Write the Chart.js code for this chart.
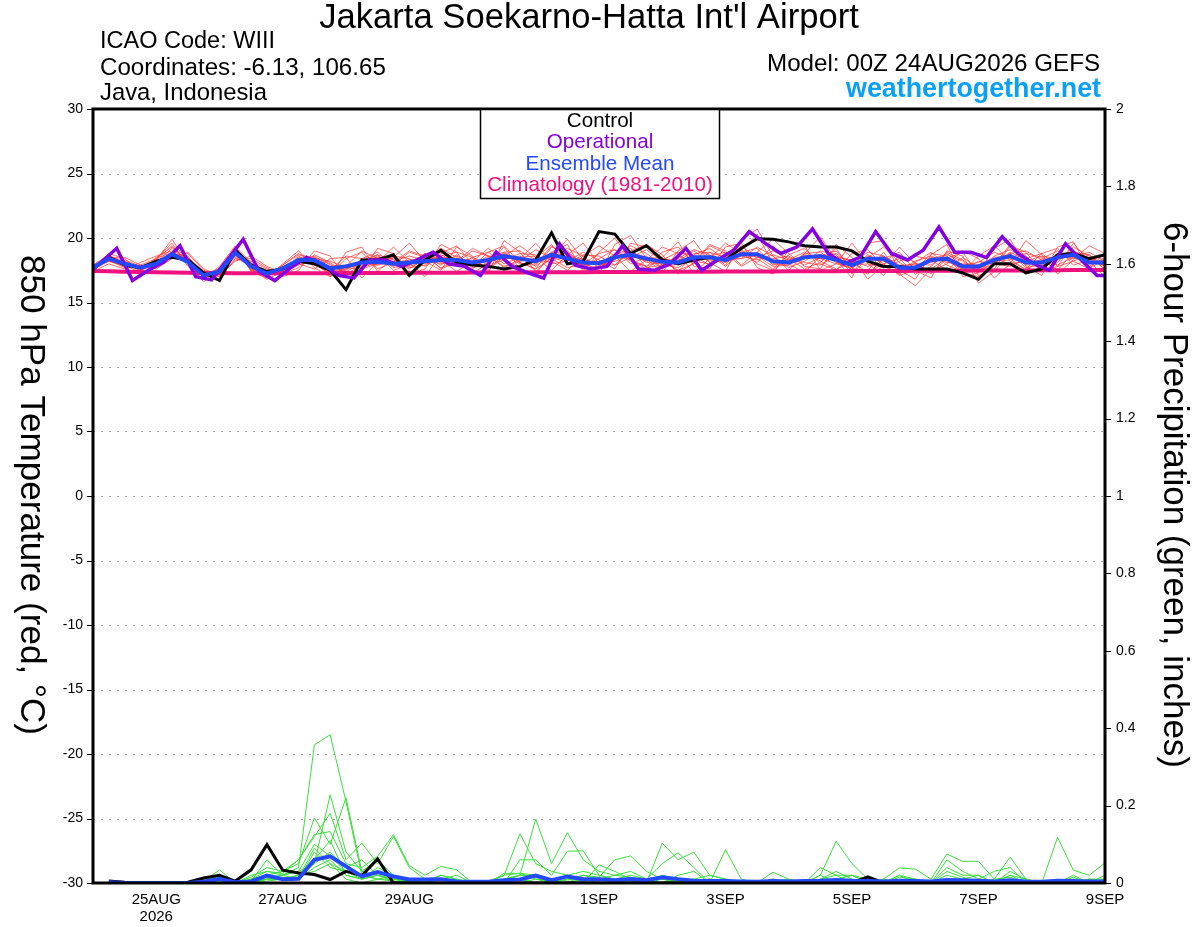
<!DOCTYPE html>
<html>
<head>
<meta charset="utf-8">
<script src="https://cdn.jsdelivr.net/npm/chart.js@4.4.0/dist/chart.umd.min.js"></script>
<style>
html, body { margin: 0; padding: 0; background: #fff; }
#wrap { width: 1200px; height: 927px; }
</style>
</head>
<body>
<div id="wrap"><canvas id="myChartArea" width="1200" height="927"></canvas></div>
<script>
// forecast hours, 6-hourly from 00Z 24AUG2026 to 00Z 9SEP2026
var hours = [];
for (var i = 0; i <= 64; i++) hours.push(i * 6);
var precipHours = hours.slice(1);
// operational run is plotted half a step later
var opHours = [0, 3];
for (var h = 9; h <= 381; h += 6) opHours.push(h);
opHours.push(384);

var tickHours = [24, 72, 120, 192, 240, 288, 336, 384];
var tickLabels = ['25AUG', '27AUG', '29AUG', '1SEP', '3SEP', '5SEP', '7SEP', '9SEP'];

// 850 hPa temperature, C
var controlTemp = [17.6,18.5,17.9,17.7,18.2,18.5,18.3,17.3,16.7,19.05,
  17.9,17.4,17.6,18.2,18.0,17.5,16.0,18.3,18.3,18.7,
  17.1,18.3,19.05,18.1,17.9,17.8,17.6,17.8,18.3,20.4,
  18.0,18.2,20.5,20.3,18.8,19.4,18.3,18.0,18.3,18.5,
  18.3,19.2,19.95,19.9,19.7,19.4,19.3,19.3,19.0,18.2,
  17.8,17.8,17.6,17.6,17.6,17.3,16.8,18.0,18.0,17.3,
  17.6,18.7,18.8,18.4,18.7];

var opTemp = [17.6,18.1,
  19.2,16.7,17.5,18.15,19.4,17.0,16.75,18.3,19.9,17.4,
  16.7,17.7,18.5,18.0,17.1,16.9,18.3,18.3,17.8,18.3,
  18.9,18.0,17.8,17.1,18.9,17.8,17.3,16.9,19.55,17.9,
  17.6,17.8,19.4,17.6,17.5,18.0,19.2,17.5,18.3,19.05,
  20.5,19.6,18.8,19.3,20.7,18.8,18.0,18.5,20.5,18.8,
  18.3,19.05,20.85,18.9,18.9,18.5,20.1,18.8,18.0,17.5,
  19.55,18.3,17.1,
  17.1];

var meanTemp = [17.7,18.4,18.0,17.7,18.0,18.75,18.15,17.1,17.4,18.85,
  17.8,17.25,17.65,18.3,18.3,17.65,17.8,18.1,18.15,18.0,
  18.1,18.2,18.3,18.3,18.1,18.3,18.6,18.4,18.2,18.7,
  18.4,18.1,18.05,18.5,18.7,18.4,18.15,18.1,18.5,18.5,
  18.3,18.75,18.75,18.2,18.1,18.5,18.6,18.3,17.9,18.4,
  18.4,17.7,17.7,18.3,18.4,17.8,17.8,18.3,18.6,18.1,
  18.1,18.5,18.7,18.1,18.1];

var climTemp = [17.45,17.42,17.39,17.36,17.34,17.32,17.30,17.29,17.28,17.27,
  17.26,17.26,17.26,17.26,17.27,17.27,17.28,17.28,17.29,17.29,
  17.30,17.30,17.31,17.31,17.32,17.32,17.33,17.33,17.34,17.34,
  17.35,17.35,17.36,17.36,17.37,17.37,17.38,17.38,17.39,17.39,
  17.40,17.40,17.41,17.41,17.42,17.42,17.43,17.43,17.44,17.44,
  17.45,17.45,17.46,17.46,17.47,17.47,17.48,17.48,17.49,17.49,
  17.50,17.50,17.51,17.51,17.52];

var mem1 = [17.6,18.6,18.1,17.5,18.3,19.9,18.0,17.0,17.6,19.2,17.5,17.0,17.9,
  18.8,18.0,17.2,18.4,18.9,17.6,18.1,19.0,18.6,17.9,18.7,17.8,18.9,
  19.4,18.1,17.6,19.3,18.8,17.9,18.4,19.1,18.2,17.8,18.9,19.3,18.0,
  18.9,17.9,19.4,18.4,17.6,18.7,19.2,18.0,17.5,18.8,19.1,17.8,17.2,
  18.1,18.9,17.9,17.4,18.6,19.4,18.2,17.6,18.8,19.2,17.9,18.3,18.6];
var mem2 = [17.8,18.2,17.8,17.9,18.4,18.9,18.3,17.3,17.2,18.6,17.9,17.4,17.3,
  18.0,18.6,17.9,17.4,18.0,18.7,18.3,17.6,18.4,19.2,18.5,17.7,18.0,
  18.9,19.0,18.3,18.1,19.2,18.6,17.7,18.3,19.4,18.8,17.9,18.2,19.0,
  18.1,18.6,19.0,20.3,18.0,17.9,18.8,18.9,18.1,17.6,18.7,18.0,17.1,
  17.5,18.8,18.6,17.5,18.2,18.0,18.9,18.3,17.8,18.6,19.0,18.4,17.8];
var mem3 = [17.5,18.3,18.2,17.6,17.8,18.6,18.4,16.9,17.5,19.3,18.1,17.1,17.6,
  18.5,18.2,17.4,17.5,18.3,17.9,18.6,18.4,17.8,18.6,18.9,18.5,17.9,
  18.3,18.8,18.7,18.0,18.2,18.9,18.3,17.6,19.6,19.3,18.5,17.4,18.7,
  19.2,18.3,18.4,19.3,18.6,17.7,18.2,19.0,18.7,17.2,18.5,19.3,18.1,
  17.4,18.4,18.7,18.2,17.3,18.6,19.1,18.5,17.7,18.3,18.8,18.3,17.9];
var mem4 = [17.9,18.7,17.9,17.6,17.9,18.5,18.1,17.2,17.3,18.7,17.7,17.3,17.8,
  18.2,18.5,18.0,17.1,17.8,18.6,17.7,17.9,18.8,17.6,18.1,19.0,18.6,
  17.8,18.2,19.1,18.4,17.7,18.0,18.8,19.1,18.0,18.5,17.6,18.4,19.1,
  18.7,17.8,18.9,19.2,17.9,18.3,18.9,18.2,17.6,18.1,18.9,18.6,17.8,
  18.0,17.9,18.8,17.9,18.1,18.9,18.4,17.5,18.4,19.0,18.2,17.6,18.4];
var mem5 = [17.6,18.5,18.3,17.8,18.1,19.2,18.0,17.1,17.6,19.0,17.6,17.2,17.5,
  18.4,17.9,17.5,18.6,18.4,18.9,17.8,18.2,18.0,18.9,18.2,18.4,17.6,
  18.7,18.0,17.9,19.4,18.3,18.4,17.9,18.8,18.3,17.8,18.3,18.9,18.6,
  17.9,18.5,18.4,18.7,18.4,18.6,17.9,18.5,18.8,17.9,18.0,17.7,18.2,
  18.6,18.3,17.5,18.5,17.7,18.2,18.3,18.8,18.5,17.9,18.5,18.9,18.2];
var mem6 = [17.7,18.3,17.9,17.5,18.2,18.8,18.6,17.0,17.2,18.9,18.0,17.5,17.4,
  17.9,18.4,18.2,17.7,17.6,18.0,18.5,17.9,18.6,18.1,17.8,18.5,18.9,
  18.0,18.5,18.6,18.3,19.0,17.8,18.2,18.5,18.9,18.1,18.0,17.7,18.4,
  18.6,18.9,18.6,18.3,18.7,18.3,18.6,18.4,18.5,18.3,17.8,18.3,17.5,
  18.2,18.6,18.1,18.0,17.9,18.4,18.0,18.2,18.6,18.4,18.7,17.8,18.5];
var mem7 = [17.8,18.4,18.0,17.8,17.9,18.7,18.2,17.4,17.3,18.5,17.8,17.0,17.7,
  18.1,18.1,17.6,17.9,18.0,17.9,18.2,18.6,18.3,18.5,18.4,17.9,18.2,
  18.4,18.6,17.8,18.8,18.5,17.6,17.8,18.4,18.9,18.5,18.4,18.2,18.3,
  18.4,18.2,18.9,18.5,18.3,18.0,18.4,18.7,18.2,18.0,18.2,18.6,17.9,
  17.9,18.1,18.5,17.7,17.6,18.3,18.7,17.9,18.0,18.7,18.4,18.5,18.0];
var mem8 = [17.6,18.2,18.1,17.7,18.0,18.6,18.3,17.2,17.5,18.8,17.6,17.3,17.6,
  18.3,18.4,17.3,17.8,18.2,18.3,17.9,18.0,18.1,18.2,18.3,17.9,18.6,
  18.5,18.3,18.1,18.5,18.1,18.2,17.9,18.2,18.6,18.2,18.3,17.9,18.6,
  18.3,18.1,18.6,18.8,18.1,18.2,18.4,18.7,18.3,17.8,18.3,18.5,17.6,
  17.8,18.2,18.3,17.9,17.8,18.2,18.5,18.0,18.2,18.5,18.6,18.1,17.9];
var mem9 = [17.7,18.5,18.0,17.6,18.1,18.9,18.1,17.0,17.4,18.9,17.9,17.2,17.5,
  18.2,18.2,17.8,17.9,17.7,18.1,18.0,17.8,18.2,18.4,18.0,18.2,18.3,
  18.8,18.2,18.4,18.6,18.6,18.3,18.0,18.7,18.5,18.6,17.7,18.0,18.8,
  18.9,18.5,18.7,18.6,17.8,17.9,18.7,18.4,18.0,17.7,18.6,18.3,17.4,
  17.6,18.5,18.2,17.6,17.5,18.1,18.8,17.7,17.9,18.4,18.9,18.0,18.3];
var mem10 = [17.8,18.6,17.8,17.8,18.0,18.7,18.2,17.3,17.3,18.7,17.7,17.4,17.7,
  18.4,18.3,17.7,17.6,18.1,18.2,18.1,18.3,18.4,18.0,18.6,18.0,18.4,
  18.6,18.4,18.0,18.9,18.4,17.9,18.1,18.4,18.8,18.3,18.2,18.3,18.5,
  18.5,18.3,18.8,18.7,18.2,18.1,18.6,18.5,18.4,18.1,18.4,18.2,17.8,
  17.7,18.3,18.4,17.8,17.9,18.5,18.6,18.1,18.3,18.6,18.5,18.2,18.1];
var mem11 = [17.5,18.4,18.2,17.6,18.3,19.4,18.0,16.6,17.7,19.1,17.6,16.8,17.4,
  18.6,18.0,17.2,17.6,18.3,18.7,17.5,17.9,18.8,18.3,17.4,18.2,19.2,
  18.3,17.7,18.5,19.5,18.0,18.7,18.6,17.9,18.5,19.1,18.2,17.5,18.0,
  19.4,18.8,17.8,18.5,19.0,18.4,17.6,18.1,19.2,17.4,17.5,18.9,17.2,
  16.3,17.6,18.4,17.3,17.0,17.9,19.5,18.6,17.4,18.1,19.3,18.6,17.6];
var mem12 = [17.9,18.3,17.7,17.9,17.7,18.6,18.5,17.4,17.0,18.4,18.2,17.6,17.2,
  17.7,18.7,18.1,17.2,17.9,18.5,18.4,17.7,17.9,18.7,18.1,17.6,18.5,
  18.9,18.1,17.6,18.4,18.9,18.0,17.6,18.7,19.2,17.7,17.9,18.6,18.2,
  18.0,18.7,19.1,18.0,17.5,18.5,18.1,17.9,18.6,18.2,17.3,18.0,18.4,
  17.2,17.8,18.9,18.3,17.4,18.0,17.8,18.4,18.8,17.8,18.2,18.7,17.5];
var mem13 = [17.7,18.8,18.4,17.4,18.4,19.6,17.8,16.8,17.8,19.4,17.4,16.9,18.0,
  19.0,17.7,17.0,18.9,19.3,17.4,18.5,19.6,18.2,17.5,19.3,18.6,17.3,
  19.8,18.9,17.4,18.5,19.9,18.3,17.2,19.5,20.2,18.4,17.3,19.0,19.8,
  18.1,17.4,19.8,20.7,18.6,17.5,18.8,20.1,18.3,16.9,19.6,19.8,17.5,
  16.8,18.7,19.5,17.0,17.3,19.2,19.9,17.8,17.1,19.3,19.7,17.6,18.9];
var mem14 = [17.4,18.0,17.6,18.1,18.6,19.0,18.8,17.5,17.0,18.3,18.4,17.7,17.0,
  17.5,19.0,18.6,16.9,17.4,19.2,18.8,17.2,17.6,19.5,18.9,17.3,18.0,
  19.3,17.6,17.2,18.9,19.5,17.4,18.9,20.0,18.3,17.6,18.5,19.7,17.8,
  17.6,19.3,19.6,17.7,17.2,19.1,19.4,17.5,18.0,19.6,18.0,17.1,18.7,
  18.1,17.2,18.4,18.9,17.1,17.6,19.4,18.9,17.4,17.8,19.6,18.2,17.0];
var mem15 = [17.6,18.5,18.5,17.9,17.6,18.4,18.9,17.6,17.1,18.2,18.6,17.8,17.3,
  18.0,17.6,18.4,18.5,16.9,18.1,19.3,18.1,17.0,18.8,19.4,18.0,17.5,
  18.6,19.4,18.5,17.5,18.7,19.6,18.0,17.9,19.0,19.5,18.7,17.2,18.1,
  19.5,19.0,17.9,18.9,19.9,18.8,17.8,17.6,19.5,18.5,16.8,17.9,19.3,
  18.0,17.4,18.0,19.0,18.4,16.9,18.0,19.8,18.7,17.2,18.3,19.4,18.8];
var mem16 = [17.8,18.2,17.9,17.3,18.5,19.3,18.2,17.2,17.6,19.0,17.5,17.1,17.9,
  18.7,18.5,17.0,17.8,19.0,18.4,17.9,18.9,18.5,17.7,18.2,19.2,18.6,
  17.7,18.4,19.6,18.2,17.5,18.6,19.4,18.6,17.4,18.3,19.3,18.8,17.3,
  18.4,19.6,18.8,18.1,19.4,18.0,17.3,18.6,19.0,17.7,17.2,18.4,18.9,
  17.5,16.9,19.0,18.6,16.5,17.4,18.8,19.0,18.3,17.5,18.9,18.7,17.8];

// 6-hour precipitation, inches (hours 6..384)
var controlPrecip = [0.005,0.002,0,0,0,0.002,0.013,0.02,0.005,0.034,0.099,0.033,0.026,0.022,0.009,0.03,
  0.019,0.062,0,0,0,0,0,0,0,0,0,0,0,0,0,0,
  0,0,0,0,0,0,0,0,0,0,0,0,0,0,0,0,
  0.016,0,0,0,0,0,0,0,0,0,0,0,0,0,0,0];
var meanPrecip = [0.002,0,0,0,0,0,0.003,0.01,0.002,0.004,0.019,0.01,0.011,0.06,0.069,0.043,
  0.017,0.028,0.017,0.009,0.009,0.01,0.004,0.003,0.003,0.007,0.009,0.019,0.007,0.017,0.01,0.01,
  0.007,0.01,0.007,0.015,0.01,0.006,0.005,0.005,0.004,0.003,0.005,0.004,0.005,0.006,0.008,0.006,
  0.005,0.004,0.006,0.005,0.004,0.008,0.007,0.006,0.004,0.007,0.004,0.003,0.006,0.005,0.004,0.004];

var pmemA = [0,0,0,0,0,0,0.005,0.01,0,0.005,0.01,0.02,0.04,0.357,0.383,0.21,
  0.02,0.01,0.005,0,0,0.01,0.005,0,0,0.005,0.01,0,0,0,0,0,
  0,0,0,0,0,0.005,0.01,0,0,0,0,0,0,0,0.005,0,
  0,0,0,0,0,0,0,0,0,0.01,0,0,0,0,0,0];
var pmemB = [0,0,0,0,0,0,0.01,0.02,0,0.01,0.03,0.02,0.03,0.05,0.228,0.08,
  0.03,0.06,0.02,0.01,0,0.02,0.01,0,0.005,0.02,0.025,0.01,0.005,0,0.01,0,
  0,0.01,0,0.02,0.01,0,0,0,0,0,0.01,0,0,0.01,0.02,0,
  0,0,0,0,0,0.02,0.01,0,0,0,0,0,0,0,0.01,0];
var pmemC = [0,0,0,0,0,0,0.005,0.034,0,0.015,0.04,0.03,0.05,0.168,0.1,0.22,
  0.03,0.02,0.01,0.005,0,0,0,0,0,0.025,0.025,0.02,0,0.01,0.005,0.01,
  0.005,0,0,0,0.02,0.03,0,0,0,0,0,0,0,0,0.01,0,
  0,0,0,0.01,0,0,0,0.005,0,0,0,0,0,0.01,0,0.02];
var pmemD = [0,0,0,0,0,0,0.01,0.015,0,0.02,0.03,0.025,0.06,0.12,0.18,0.06,
  0.103,0.05,0.12,0.04,0.01,0.01,0.02,0,0,0.01,0.02,0.015,0,0,0.02,0.01,
  0.01,0.02,0.01,0,0,0,0.01,0,0,0.005,0,0,0,0.02,0,0,
  0.01,0,0.02,0,0,0.03,0.015,0,0,0.02,0,0,0,0.015,0,0.01];
var pmemE = [0,0,0,0,0,0,0.005,0.02,0,0.01,0.02,0.03,0.06,0.125,0.133,0.05,
  0.04,0.069,0.125,0.045,0.02,0.043,0.034,0,0,0.005,0.02,0.02,0.01,0.005,0,0,
  0,0,0,0.01,0.005,0,0,0.01,0,0,0,0,0,0,0.01,0.02,
  0,0,0,0,0,0,0,0,0.01,0.015,0,0,0,0,0,0];
var pmemF = [0,0,0,0,0,0,0,0.01,0,0.005,0.06,0.02,0.01,0.08,0.04,0.03,
  0.02,0.03,0.01,0.01,0.005,0.02,0.01,0,0,0.02,0.127,0.05,0.03,0.02,0.03,0.02,
  0.01,0,0,0,0,0,0.005,0,0,0,0,0,0,0,0,0,
  0,0.01,0,0,0,0,0,0.01,0,0,0,0,0,0,0.005,0];
var pmemG = [0,0,0,0,0,0,0,0.005,0,0,0.01,0.01,0.02,0.05,0.08,0.04,
  0.06,0.02,0.01,0.005,0,0,0,0,0,0.01,0.02,0.165,0.05,0.13,0.06,0.03,
  0.02,0.015,0.005,0,0.01,0.005,0.01,0,0,0,0.005,0,0,0,0,0.01,
  0.005,0,0,0,0,0,0,0,0,0,0,0,0,0.01,0,0];
var pmemH = [0,0,0,0,0,0,0,0,0,0.005,0.02,0.01,0.015,0.09,0.05,0.03,
  0.01,0.04,0.02,0.01,0,0,0,0,0,0,0.06,0.06,0.02,0.082,0.083,0.02,
  0.01,0.005,0,0.103,0.06,0.08,0.02,0.01,0,0,0.01,0,0,0,0,0,
  0,0,0,0,0,0,0.01,0.02,0,0,0,0,0,0,0.01,0.005];
var pmemI = [0,0,0,0,0,0,0.005,0.01,0,0,0.01,0.01,0.02,0.06,0.11,0.02,
  0.01,0.02,0.01,0.005,0,0,0,0,0,0,0.01,0.02,0,0.01,0.02,0.015,
  0.06,0.07,0.03,0.01,0,0.01,0,0.086,0.01,0,0.005,0.01,0,0.01,0.03,0.01,
  0,0,0.015,0.01,0,0.04,0.02,0.02,0,0.03,0.01,0,0,0,0,0];
var pmemJ = [0,0,0,0,0,0,0,0.005,0,0.005,0.015,0.02,0.03,0.1,0.07,0.03,
  0.02,0.01,0.02,0,0,0,0,0,0,0,0,0.01,0,0.02,0.01,0.01,
  0.02,0.03,0.01,0.05,0.078,0.04,0,0,0,0,0.01,0,0,0.02,0.108,0.05,
  0.01,0,0.01,0.005,0,0.01,0,0,0,0.02,0.01,0,0,0,0.01,0.01];
var pmemK = [0,0,0,0,0,0,0,0.01,0,0,0.01,0.015,0.01,0.04,0.06,0.02,
  0.01,0.02,0.005,0,0,0.01,0,0,0,0,0.01,0,0,0,0,0.047,
  0.03,0.01,0,0,0.01,0.005,0,0,0,0,0.028,0.01,0,0.04,0.02,0.02,
  0,0.01,0.039,0.036,0.01,0.075,0.056,0.056,0.01,0.067,0.01,0,0,0.02,0,0.01];
var pmemL = [0,0,0,0,0,0,0,0,0,0,0.005,0.01,0.02,0.03,0.05,0.01,
  0,0.01,0.01,0,0,0,0,0,0,0,0,0,0,0,0,0,
  0,0,0,0,0,0.01,0.02,0.01,0,0,0,0.005,0,0,0.01,0.02,
  0.01,0,0.02,0.01,0,0.06,0.03,0.01,0.03,0.04,0,0,0.118,0.033,0.02,0.052];

var tempMembers = [mem1, mem2, mem3, mem4, mem5, mem6, mem7, mem8,
  mem9, mem10, mem11, mem12, mem13, mem14, mem15, mem16];
var precipMembers = [pmemA, pmemB, pmemC, pmemD, pmemE, pmemF, pmemG, pmemH, pmemI, pmemJ, pmemK, pmemL];

var FONT = '"Liberation Sans", Arial, Helvetica, sans-serif';

function pts(hrs, vals) {
  return vals.map(function (v, k) { return { x: hrs[k], y: v }; });
}

function line(data, axis, color, width, order) {
  return { data: data, yAxisID: axis, borderColor: color, borderWidth: width,
    pointRadius: 0, tension: 0, fill: false, order: order };
}

var datasets = [];
datasets.push(line(pts(hours, meanTemp), 'y', '#2448ff', 4, 1));
datasets.push(line(pts(opHours, opTemp), 'y', '#8400e0', 3.5, 2));
datasets.push(line(pts(hours, controlTemp), 'y', '#000000', 3, 3));
datasets.push(line(pts(hours, climTemp), 'y', '#f0107e', 4, 4));
datasets.push(line(pts(precipHours, meanPrecip), 'y2', '#2448ff', 4, 5));
datasets.push(line(pts(precipHours, controlPrecip), 'y2', '#000000', 3, 6));
precipMembers.forEach(function (m) {
  datasets.push(line(pts(precipHours, m), 'y2', '#3cdc3c', 1, 10));
});
tempMembers.forEach(function (m) {
  datasets.push(line(pts(hours, m), 'y', 'rgba(255,50,50,0.72)', 1, 11));
});

function fitText(ctx, txt, x, y, w, align, weight, color) {
  ctx.font = weight + ' 20px ' + FONT;
  var size = 20 * w / ctx.measureText(txt).width;
  ctx.font = weight + ' ' + size.toFixed(2) + 'px ' + FONT;
  ctx.textAlign = align;
  ctx.fillStyle = color;
  ctx.fillText(txt, x, y);
}

var deco = {
  id: 'deco',
  beforeDatasetsDraw: function (chart) {
    var ctx = chart.ctx, a = chart.chartArea, y = chart.scales.y;
    ctx.save();
    ctx.strokeStyle = '#a8a8a8';
    ctx.lineWidth = 1;
    ctx.setLineDash([2, 6]);
    for (var v = -25; v <= 25; v += 5) {
      var py = Math.round(y.getPixelForValue(v)) + 0.5;
      ctx.beginPath(); ctx.moveTo(a.left, py); ctx.lineTo(a.right, py); ctx.stroke();
    }
    ctx.restore();
  },
  afterDatasetsDraw: function (chart) {
    var ctx = chart.ctx, a = chart.chartArea;
    var x = chart.scales.x, y = chart.scales.y, y2 = chart.scales.y2;
    ctx.save();
    ctx.setLineDash([]);

    // frame
    ctx.strokeStyle = '#000';
    ctx.lineWidth = 3;
    ctx.strokeRect(a.left, a.top, a.right - a.left, a.bottom - a.top);

    // tick marks
    ctx.lineWidth = 1;
    for (var v = -30; v <= 30; v += 5) {
      var py = Math.round(y.getPixelForValue(v)) + 0.5;
      ctx.beginPath(); ctx.moveTo(a.left - 6, py); ctx.lineTo(a.left, py); ctx.stroke();
    }
    for (var k = 0; k <= 10; k++) {
      var py2 = Math.round(y2.getPixelForValue(k * 0.2)) + 0.5;
      ctx.beginPath(); ctx.moveTo(a.right, py2); ctx.lineTo(a.right + 6, py2); ctx.stroke();
    }

    // x labels
    ctx.fillStyle = '#000';
    ctx.textAlign = 'center';
    ctx.font = '15px ' + FONT;
    tickHours.forEach(function (hr, n) {
      var px = x.getPixelForValue(hr);
      ctx.fillText(tickLabels[n], px, 904);
      if (n === 0) ctx.fillText('2026', px, 921);
    });

    // legend box
    ctx.fillStyle = '#fff';
    ctx.fillRect(481, 110, 238, 88);
    ctx.lineWidth = 1.5;
    ctx.strokeRect(480.5, 109.5, 239, 89);
    ctx.font = '20.6px ' + FONT;
    ctx.textAlign = 'center';
    ctx.fillStyle = '#000'; ctx.fillText('Control', 600, 127);
    ctx.fillStyle = '#8400e0'; ctx.fillText('Operational', 600, 148);
    ctx.fillStyle = '#2448ff'; ctx.fillText('Ensemble Mean', 600, 170);
    ctx.fillStyle = '#f0107e'; ctx.fillText('Climatology (1981-2010)', 600, 191);

    // header
    fitText(ctx, "Jakarta Soekarno-Hatta Int'l Airport", 589, 28, 540, 'center', 'normal', '#000');
    fitText(ctx, 'ICAO Code: WIII', 100, 48, 175, 'left', 'normal', '#000');
    fitText(ctx, 'Coordinates: -6.13, 106.65', 100, 75, 286, 'left', 'normal', '#000');
    fitText(ctx, 'Java, Indonesia', 100, 100, 167, 'left', 'normal', '#000');
    fitText(ctx, 'Model: 00Z 24AUG2026 GEFS', 1100, 71, 333, 'right', 'normal', '#000');
    fitText(ctx, 'weathertogether.net', 1101, 97, 255, 'right', 'bold', '#0aa0f5');

    // axis titles, both read top to bottom
    ctx.save();
    ctx.translate(31, 495);
    ctx.rotate(Math.PI / 2);
    ctx.textBaseline = 'middle';
    fitText(ctx, '850 hPa Temperature (red, \u00B0C)', 0, 0, 480, 'center', 'normal', '#000');
    ctx.restore();
    ctx.save();
    ctx.translate(1174, 495);
    ctx.rotate(Math.PI / 2);
    ctx.textBaseline = 'middle';
    fitText(ctx, '6-hour Precipitation (green, inches)', 0, 0, 546, 'center', 'normal', '#000');
    ctx.restore();

    ctx.restore();
  }
};

var ctx = document.getElementById('myChartArea');
var chart = new Chart(ctx, {
  type: 'line',
  data: { datasets: datasets },
  options: {
    responsive: false,
    animation: false,
    devicePixelRatio: 1,
    events: [],
    layout: { padding: { top: 109, left: 0, right: 0, bottom: 0 } },
    plugins: { legend: { display: false }, tooltip: { enabled: false }, title: { display: false } },
    scales: {
      x: {
        type: 'linear', min: 0, max: 384,
        grid: { display: false, drawTicks: false },
        border: { display: false },
        ticks: { display: false },
        afterFit: function (s) { s.height = 44; }
      },
      y: {
        position: 'left', min: -30, max: 30,
        grid: { display: false, drawTicks: false },
        border: { display: false },
        ticks: { stepSize: 5, padding: 10, color: '#000', font: { family: FONT, size: 14 } },
        afterFit: function (s) { s.width = 93; }
      },
      y2: {
        position: 'right', min: 0, max: 2,
        grid: { display: false, drawTicks: false },
        border: { display: false },
        ticks: {
          stepSize: 0.2, padding: 11, color: '#000', font: { family: FONT, size: 14 },
          callback: function (v) { return String(Math.round(v * 10) / 10); }
        },
        afterFit: function (s) { s.width = 95; }
      }
    }
  },
  plugins: [deco]
});
</script>
</body>
</html>
